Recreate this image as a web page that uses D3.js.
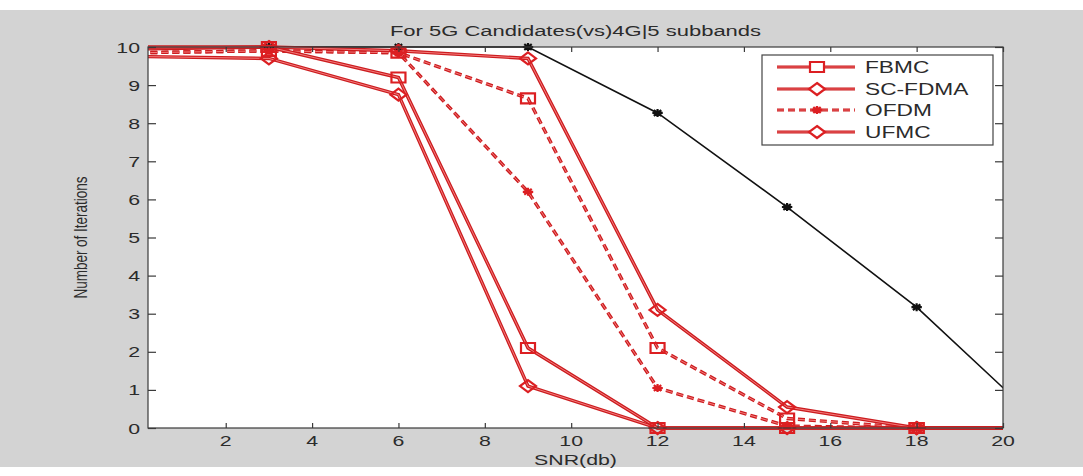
<!DOCTYPE html>
<html>
<head>
<meta charset="utf-8">
<script src="https://cdn.jsdelivr.net/npm/d3@7"></script>
<style>
  html, body { margin: 0; padding: 0; background: #ffffff; }
  svg { display: block; }
  text { font-family: "Liberation Sans", Arial, sans-serif; fill: #2b2b2b; }
</style>
</head>
<body>
<div id="chart"></div>
<script>
// ---------------- data ----------------
const snr = [0, 3, 6, 9, 12, 15, 18, 21];
const fbmc   = [10, 10, 9.2, 2.1, 0, 0, 0, 0];
const scfdma = [9.75, 9.7, 8.75, 1.1, 0, 0, 0, 0];
const ofdm   = [9.85, 9.9, 9.85, 6.2, 1.05, 0.05, 0, 0];
const ufmc   = [9.95, 10, 9.9, 9.7, 3.1, 0.55, 0, 0];
const extraDashed = [9.85, 9.9, 9.85, 8.65, 2.1, 0.25, 0, 0]; // dashed squares (not in legend)
const lte4g  = [10, 10, 10, 10, 8.27, 5.8, 3.17, 0];          // black reference curve
const xTicks = [2, 4, 6, 8, 10, 12, 14, 16, 18, 20];
const yTicks = [0, 1, 2, 3, 4, 5, 6, 7, 8, 9, 10];
const legendLabels = ["FBMC", "SC-FDMA", "OFDM", "UFMC"];
const titleText = "For 5G Candidates(vs)4G|5 subbands";
const xLabel = "SNR(db)";
const yLabel = "Number of Iterations";

// ---------------- layout ----------------
const W = 1083, H = 476;
const plot = { left: 148, right: 1003, top: 47, bottom: 428 };
const SX = 1.42; // horizontal stretch of the original figure
const RED = "#dc1f22";
const RED_DARK = "#cc1c1f";
const RED_LIGHT = "#f47c7c";

const svg = d3.select("#chart").append("svg").attr("width", W).attr("height", H);

// figure background
svg.append("rect").attr("x", 0).attr("y", 10).attr("width", W).attr("height", 457).attr("fill", "#d3d3d3");
svg.append("rect").attr("x", plot.left).attr("y", plot.top)
  .attr("width", plot.right - plot.left).attr("height", plot.bottom - plot.top).attr("fill", "#ffffff");

const x = d3.scaleLinear().domain([0.2, 20]).range([plot.left, plot.right]);
const y = d3.scaleLinear().domain([0, 10]).range([plot.bottom, plot.top]);

function stretchedText(g, tx, ty, str, size, anchor, extra) {
  return g.append("text")
    .attr("transform", `translate(${tx},${ty}) scale(${SX},1)` + (extra || ""))
    .attr("text-anchor", anchor)
    .attr("font-size", size)
    .text(str);
}

// clip
svg.append("clipPath").attr("id", "clip").append("rect")
  .attr("x", plot.left).attr("y", plot.top - 12)
  .attr("width", plot.right - plot.left).attr("height", plot.bottom - plot.top + 24);

const data = (vals) => snr.map((s, i) => ({ x: s, y: vals[i] }));
const line = d3.line().x(d => x(d.x)).y(d => y(d.y));

const content = svg.append("g").attr("clip-path", "url(#clip)");

// marker shapes
function squarePath(w, h) { return `M${-w},${-h}H${w}V${h}H${-w}Z`; }
function diamondPath(w, h) { return `M0,${-h}L${w},0L0,${h}L${-w},0Z`; }
function starPath(r) {
  const a = r * 0.72;
  return `M${-r * 1.3},0H${r * 1.3}M0,${-r}V${r}M${-a * 1.3},${-a}L${a * 1.3},${a}M${-a * 1.3},${a}L${a * 1.3},${-a}`;
}

function drawSeries(vals, opts) {
  const pts = data(vals);
  const dash = opts.dashed ? "7,4" : null;
  if (opts.color === "black") {
    content.append("path").datum(pts).attr("d", line)
      .attr("fill", "none").attr("stroke", "#111").attr("stroke-width", 1.6);
  } else {
    content.append("path").datum(pts).attr("d", line)
      .attr("fill", "none").attr("stroke", RED_DARK).attr("stroke-width", 3.4)
      .attr("stroke-dasharray", dash);
    content.append("path").datum(pts).attr("d", line)
      .attr("fill", "none").attr("stroke", RED_LIGHT).attr("stroke-width", 1.0)
      .attr("stroke-dasharray", dash);
  }
  const mpts = pts.filter(d => d.x >= 0.2 && d.x <= 20);
  const mg = svg.append("g");
  mpts.forEach(d => {
    const gx = x(d.x), gy = y(d.y);
    if (opts.marker === "square") {
      mg.append("path").attr("transform", `translate(${gx},${gy})`).attr("d", squarePath(7, 5))
        .attr("fill", "none").attr("stroke", RED).attr("stroke-width", 2.2);
    } else if (opts.marker === "diamond") {
      mg.append("path").attr("transform", `translate(${gx},${gy})`).attr("d", diamondPath(8, 6))
        .attr("fill", "none").attr("stroke", RED).attr("stroke-width", 2.2);
    } else if (opts.marker === "star") {
      mg.append("path").attr("transform", `translate(${gx},${gy})`).attr("d", starPath(4))
        .attr("fill", "none").attr("stroke", opts.color === "black" ? "#111" : RED).attr("stroke-width", 2.2);
    }
  });
}

drawSeries(lte4g, { color: "black", marker: "star" });
drawSeries(extraDashed, { color: "red", marker: "square", dashed: true });
drawSeries(ofdm, { color: "red", marker: "star", dashed: true });
drawSeries(scfdma, { color: "red", marker: "diamond" });
drawSeries(ufmc, { color: "red", marker: "diamond" });
drawSeries(fbmc, { color: "red", marker: "square" });

// axes box and ticks
const ax = svg.append("g");
const AXC = "#3a3a3a";
ax.append("rect").attr("x", plot.left).attr("y", plot.top)
  .attr("width", plot.right - plot.left).attr("height", plot.bottom - plot.top)
  .attr("fill", "none").attr("stroke", AXC).attr("stroke-width", 1.2);

const xAxisB = d3.axisBottom(x).tickValues(xTicks).tickSize(-5).tickPadding(9).tickFormat(d3.format("d"));
const xAxisT = d3.axisTop(x).tickValues(xTicks).tickSize(-5).tickFormat("");
const yAxisL = d3.axisLeft(y).tickValues(yTicks).tickSize(-8).tickPadding(8).tickFormat(d3.format("d"));
const yAxisR = d3.axisRight(y).tickValues(yTicks).tickSize(-8).tickFormat("");

function styleAxis(g) {
  g.select(".domain").remove();
  g.selectAll(".tick line").attr("stroke", AXC).attr("stroke-width", 1.2);
  g.selectAll(".tick text").remove();
}
const gxB = ax.append("g").attr("transform", `translate(0,${plot.bottom})`).call(xAxisB);
const gxT = ax.append("g").attr("transform", `translate(0,${plot.top})`).call(xAxisT);
const gyL = ax.append("g").attr("transform", `translate(${plot.left},0)`).call(yAxisL);
const gyR = ax.append("g").attr("transform", `translate(${plot.right},0)`).call(yAxisR);
[gxB, gxT, gyL, gyR].forEach(styleAxis);

// tick labels (stretched like the original)
xTicks.forEach(v => stretchedText(ax, x(v), 446, d3.format("d")(v), 15, "middle"));
yTicks.forEach(v => stretchedText(ax, 140, y(v) + 5.5, d3.format("d")(v), 15, "end"));

// title and axis labels
stretchedText(svg, (plot.left + plot.right) / 2, 36, titleText, 15.5, "middle");
stretchedText(svg, (plot.left + plot.right) / 2, 465, xLabel, 15, "middle");
svg.append("text")
  .attr("transform", `translate(87,${(plot.top + plot.bottom) / 2}) scale(${SX},1) rotate(-90)`)
  .attr("text-anchor", "middle").attr("font-size", 13.5).text(yLabel);

// legend
const lg = svg.append("g");
const lx0 = 762, ly0 = 55, lw = 231, lh = 90;
lg.append("rect").attr("x", lx0).attr("y", ly0).attr("width", lw).attr("height", lh)
  .attr("fill", "#ffffff").attr("stroke", "#444").attr("stroke-width", 1.2);
const legendStyles = [
  { marker: "square", dashed: false },
  { marker: "diamond", dashed: false },
  { marker: "star", dashed: true },
  { marker: "diamond", dashed: false }
];
const rowY = [67, 89, 110, 132];
legendLabels.forEach((lab, i) => {
  const yy = rowY[i];
  const st = legendStyles[i];
  const dash = st.dashed ? "7,4" : null;
  lg.append("line").attr("x1", 777).attr("x2", 855).attr("y1", yy).attr("y2", yy)
    .attr("stroke", RED_DARK).attr("stroke-width", 3).attr("stroke-dasharray", dash);
  lg.append("line").attr("x1", 777).attr("x2", 855).attr("y1", yy).attr("y2", yy)
    .attr("stroke", RED_LIGHT).attr("stroke-width", 0.8).attr("stroke-dasharray", dash);
  const m = lg.append("path").attr("transform", `translate(817,${yy})`)
    .attr("fill", st.marker === "star" ? RED : "#fff").attr("stroke", RED).attr("stroke-width", 2.2);
  if (st.marker === "square") m.attr("d", squarePath(7, 5));
  else if (st.marker === "diamond") m.attr("d", diamondPath(8, 6));
  else m.attr("d", starPath(4)).attr("fill", "none").attr("stroke-width", 2.4);
  stretchedText(lg, 865, yy + 6, lab, 16, "start");
});
</script>
</body>
</html>
